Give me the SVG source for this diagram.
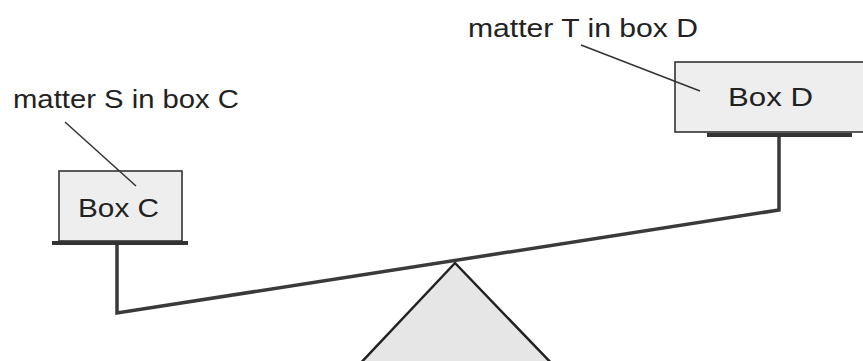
<svg xmlns="http://www.w3.org/2000/svg" width="863" height="361" viewBox="0 0 863 361">
<style>
  .lbl{font-family:"Liberation Sans",Arial,sans-serif;font-size:26px;fill:#222}
  .box{fill:#eeeeee;stroke:#333;stroke-width:1.6}
  .bar{stroke:#333;stroke-width:4}
  .post{stroke:#3a3a3a;stroke-width:3.5;fill:none}
  .leader{stroke:#333;stroke-width:1.5}
</style>
<rect width="863" height="361" fill="#fff"/>
<g id="fulcrum">
  <polygon points="455,263 356,368 556,368" fill="#e6e6e6" stroke="#222" stroke-width="2.5" stroke-linejoin="miter"/>
</g>
<g id="boxC">
  <rect class="box" x="59" y="171" width="123" height="70"/>
  <line class="bar" x1="52" y1="243" x2="188" y2="243"/>
  <text class="lbl" x="78" y="217" textLength="81" lengthAdjust="spacingAndGlyphs">Box C</text>
</g>
<g id="boxD">
  <rect class="box" x="675" y="62" width="195" height="70"/>
  <line class="bar" x1="707" y1="135" x2="852" y2="135"/>
  <text class="lbl" x="728" y="106" textLength="85" lengthAdjust="spacingAndGlyphs">Box D</text>
</g>
<g id="labelS">
  <text class="lbl" x="13" y="108" textLength="226" lengthAdjust="spacingAndGlyphs">matter S in box C</text>
</g>
<g id="labelT">
  <text class="lbl" x="468" y="37" textLength="230" lengthAdjust="spacingAndGlyphs">matter T in box D</text>
</g>
<g id="connectors">
  <polyline class="post" points="117,245 117,313 779,210 779,137"/>
  <line class="leader" x1="65" y1="122" x2="136" y2="186"/>
  <line class="leader" x1="581" y1="45" x2="700" y2="91"/>
</g>
</svg>
